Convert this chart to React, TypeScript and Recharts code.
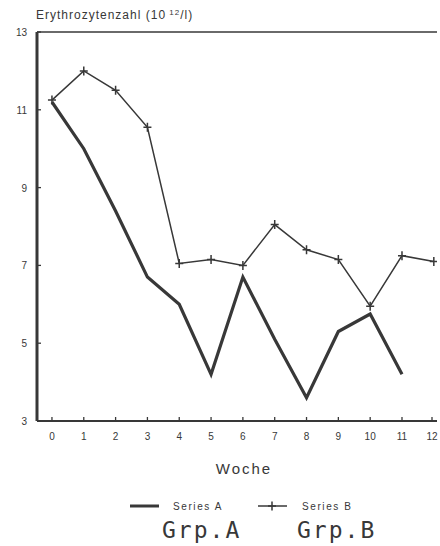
import { LineChart, Line, XAxis, YAxis, ReferenceLine } from "recharts";

const weeks = [0, 1, 2, 3, 4, 5, 6, 7, 8, 9, 10, 11, 12];
const seriesA = [11.2, 10.0, 8.4, 6.7, 6.0, 4.2, 6.7, 5.1, 3.6, 5.3, 5.75, 4.2, null];
const seriesB = [11.25, 12.0, 11.5, 10.55, 7.05, 7.15, 7.0, 8.05, 7.4, 7.15, 5.95, 7.25, 7.1];
const yTicks = [3, 5, 7, 9, 11, 13];
const seriesNames = ["Series A", "Series B"];
const groupNames = ["Grp.A", "Grp.B"];

const data = weeks.map((w, i) => ({ week: w, a: seriesA[i], b: seriesB[i] }));

const ink = "#383838";
const font = "'Liberation Sans', Arial, sans-serif";

function PlusDot({ cx, cy }: any) {
  if (cx == null || cy == null) return null;
  return (
    <path
      d={`M${cx - 4},${cy}h8M${cx},${cy - 4.5}v9`}
      stroke={ink}
      strokeWidth={1.5}
      fill="none"
    />
  );
}

function XTick({ x, y, payload }: any) {
  return (
    <g>
      <line x1={x} x2={x} y1={y} y2={y - 4} stroke={ink} strokeWidth={1.3} />
      <text x={x} y={y + 19} textAnchor="middle" fontSize={10} fontFamily={font} fill={ink}>
        {payload.value}
      </text>
    </g>
  );
}

function YTick({ x, y, payload }: any) {
  return (
    <g>
      <line x1={x} x2={x + 4} y1={y} y2={y} stroke={ink} strokeWidth={1.3} />
      <text x={x - 10} y={y + 4} textAnchor="end" fontSize={10} fontFamily={font} fill={ink}>
        {payload.value}
      </text>
    </g>
  );
}

function LegendBlock() {
  return (
    <svg width={440} height={51} style={{ display: "block" }}>
      <line x1={130} x2={159} y1={11} y2={11} stroke={ink} strokeWidth={3} />
      <text x={173} y={15} fontSize={10} fontFamily={font} fill={ink} letterSpacing={1.6}>
        {seriesNames[0]}
      </text>
      <line x1={258} x2={287} y1={11} y2={11} stroke={ink} strokeWidth={1.5} />
      <PlusDot cx={272} cy={11} />
      <text x={302} y={15} fontSize={10} fontFamily={font} fill={ink} letterSpacing={1.6}>
        {seriesNames[1]}
      </text>
      <text x={162} y={43} fontSize={23} fontFamily="'DejaVu Sans Mono', monospace" fill={ink} letterSpacing={2}>
        {groupNames[0]}
      </text>
      <text x={297} y={43} fontSize={23} fontFamily="'DejaVu Sans Mono', monospace" fill={ink} letterSpacing={2}>
        {groupNames[1]}
      </text>
    </svg>
  );
}

export default function App() {
  return (
    <div style={{ position: "absolute", left: 0, top: 0, width: 440, height: 546, background: "#fff" }}>
      <LineChart width={440} height={495} data={data} margin={{ top: 32, right: 3, left: 0, bottom: 0 }}>
        <text x={36} y={19} fontSize={12} fontFamily={font} fill={ink} letterSpacing={1}>
          Erythrozytenzahl (10
          <tspan dy={-4} fontSize={8}> 12</tspan>
          <tspan dy={4}>/l)</tspan>
        </text>
        <XAxis
          dataKey="week"
          type="number"
          domain={[-0.47, 12.1]}
          ticks={weeks}
          allowDataOverflow
          height={74}
          tickSize={0}
          tickMargin={0}
          tickLine={false}
          tick={<XTick />}
          axisLine={{ stroke: ink, strokeWidth: 2 }}
          label={{
            value: "Woche",
            position: "insideBottom",
            offset: 21,
            dx: 7,
            style: { fontSize: 15, fontFamily: font, fill: ink, letterSpacing: 2 },
          }}
        />
        <YAxis
          type="number"
          domain={[3, 13]}
          ticks={yTicks}
          width={37}
          tickSize={0}
          tickMargin={0}
          tickLine={false}
          tick={<YTick />}
          axisLine={{ stroke: ink, strokeWidth: 3 }}
        />
        <ReferenceLine y={13} stroke={ink} strokeWidth={1.5} />
        <Line
          dataKey="a"
          stroke={ink}
          strokeWidth={3.2}
          dot={false}
          activeDot={false}
          isAnimationActive={false}
          strokeLinejoin="miter"
        />
        <Line
          dataKey="b"
          stroke={ink}
          strokeWidth={1.5}
          dot={<PlusDot />}
          activeDot={false}
          isAnimationActive={false}
        />
      </LineChart>
      <LegendBlock />
    </div>
  );
}
